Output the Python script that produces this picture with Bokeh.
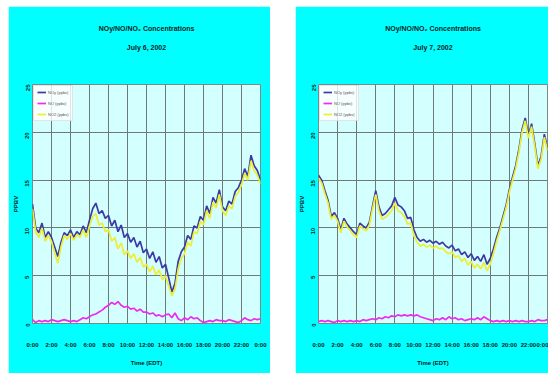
import math
import numpy as np
from bokeh.plotting import figure
from bokeh.layouts import row
from bokeh.models import Range1d, FixedTicker, Title, Legend, LegendItem
from bokeh.embed import file_html
from bokeh.resources import INLINE

# Sampling grid: one reading every 20 minutes, 0:00 to 24:00
hours = np.arange(73) / 3.0

tick_hours = [0, 2, 4, 6, 8, 10, 12, 14, 16, 18, 20, 22, 24]
time_labels = ["0:00", "2:00", "4:00", "6:00", "8:00", "10:00", "12:00",
               "14:00", "16:00", "18:00", "20:00", "22:00", "0:00"]
ppbv_ticks = [0, 5, 10, 15, 20, 25]

series_names = ["NOy (ppbv)", "NO (ppbv)", "NO2 (ppbv)"]

# July 6, 2002
noy_jul6 = [12.5, 10.0, 9.5, 10.5, 9.0, 9.6, 9.0, 8.0, 7.0, 8.5, 9.5, 9.2,
            9.8, 9.0, 9.6, 9.3, 10.2, 9.5, 10.8, 12.0, 12.6, 11.5, 11.8, 11.0,
            11.3, 10.2, 10.8, 9.6, 10.3, 9.0, 9.4, 8.5, 9.0, 8.0, 8.6, 7.4,
            7.8, 6.8, 7.5, 6.4, 7.0, 5.8, 6.2, 4.8, 3.3, 4.2, 6.5, 7.5,
            8.0, 9.2, 8.8, 10.2, 10.0, 11.2, 10.8, 12.3, 11.5, 13.2, 12.6, 14.0,
            12.2, 11.8, 12.8, 12.5, 13.8, 14.2, 15.0, 16.2, 15.4, 17.6, 16.5, 16.0,
            15.0]
no_jul6 = [0.4, 0.1, 0.3, 0.2, 0.3, 0.2, 0.4, 0.3, 0.2, 0.3, 0.4, 0.3,
           0.2, 0.3, 0.2, 0.4, 0.6, 0.5, 0.7, 0.9, 1.0, 1.2, 1.4, 1.7,
           1.9, 2.2, 2.0, 2.3, 1.9, 1.7, 1.8, 1.5, 1.6, 1.3, 1.5, 1.2,
           1.2, 1.0, 1.1, 0.8, 0.9, 0.7, 0.9, 1.0, 0.6, 1.1, 0.5, 0.3,
           0.6, 0.4, 0.7, 0.5, 0.6, 0.3, 0.1, 0.2, 0.3, 0.2, 0.4, 0.3,
           0.3, 0.2, 0.4, 0.3, 0.2, 0.1, 0.3, 0.6, 0.4, 0.3, 0.5, 0.4,
           0.5]
no2_jul6 = [12.0, 9.6, 9.0, 10.0, 8.6, 9.2, 8.6, 7.4, 6.3, 8.0, 9.2, 8.8,
            9.4, 8.7, 9.3, 9.0, 9.8, 9.0, 10.2, 11.2, 11.5, 10.3, 10.5, 9.6,
            9.8, 8.6, 9.0, 7.8, 8.4, 7.2, 7.6, 6.8, 7.3, 6.4, 6.9, 5.9,
            6.2, 5.4, 6.0, 5.1, 5.6, 4.6, 5.0, 3.9, 2.9, 3.6, 5.7, 6.8,
            7.3, 8.5, 8.1, 9.6, 9.4, 10.7, 10.3, 11.8, 11.0, 12.7, 12.1, 13.5,
            11.8, 11.3, 12.3, 12.0, 13.3, 13.7, 14.5, 15.7, 15.0, 17.0, 16.0, 15.5,
            14.6]

# July 7, 2002
noy_jul7 = [15.5, 15.0, 13.9, 12.9, 11.2, 11.6, 11.0, 9.8, 11.0, 10.4, 10.0, 9.6,
            9.3, 10.5, 10.2, 10.0, 10.6, 12.3, 13.9, 12.2, 11.3, 11.5, 11.9, 12.3,
            13.2, 12.4, 12.2, 11.8, 11.0, 11.1, 9.8, 9.0, 8.6, 8.8, 8.5, 8.7,
            8.4, 8.6, 8.3, 8.5, 8.1, 7.9, 8.2, 7.6, 7.8, 7.2, 7.5, 6.9,
            7.3, 6.6, 7.0, 6.5, 7.2, 6.2, 6.8, 7.8, 9.0, 10.0, 11.2, 12.4,
            14.0, 15.3, 16.5, 18.2, 20.3, 21.5, 19.7, 20.9, 18.8, 16.5, 17.5, 19.8,
            18.4]
no_jul7 = [0.2, 0.3, 0.2, 0.3, 0.2, 0.1, 0.3, 0.2, 0.3, 0.2, 0.3, 0.2,
           0.3, 0.2, 0.4, 0.3, 0.4, 0.5, 0.4, 0.6, 0.5, 0.7, 0.6, 0.8,
           0.7, 0.9, 0.8, 0.9, 0.8, 0.9, 0.8, 0.9, 0.7, 0.6, 0.5, 0.4,
           0.3, 0.5, 0.4, 0.6, 0.4, 0.7, 0.5, 0.6, 0.4, 0.5, 0.3, 0.4,
           0.5, 0.4, 0.6, 0.4, 0.7, 0.5, 0.3, 0.2, 0.3, 0.2, 0.3, 0.2,
           0.3, 0.2, 0.3, 0.2, 0.3, 0.2, 0.2, 0.3, 0.2, 0.4, 0.3, 0.3,
           0.4]
no2_jul7 = [15.2, 14.7, 13.6, 12.6, 10.9, 11.3, 10.7, 9.5, 10.7, 10.1, 9.7, 9.3,
            9.0, 10.2, 9.9, 9.7, 10.3, 12.0, 13.5, 11.8, 10.9, 11.1, 11.4, 11.8,
            12.6, 11.8, 11.6, 11.2, 10.4, 10.5, 9.2, 8.5, 8.1, 8.3, 8.0, 8.2,
            7.9, 8.1, 7.8, 7.9, 7.5, 7.3, 7.5, 6.9, 7.1, 6.5, 6.8, 6.1,
            6.5, 5.8, 6.2, 5.7, 6.4, 5.5, 6.2, 7.3, 8.6, 9.7, 10.9, 12.1,
            13.7, 15.0, 16.2, 17.9, 20.0, 21.2, 19.4, 20.6, 18.5, 16.2, 17.2, 19.5,
            18.1]

LINE_COLORS = ["#3b3ba6", "#ee2cee", "#eeee30"]
PANEL_BG = "#00ffff"
PLOT_BG = "#d4ffff"
TEXT = "#0d2424"
FONT = "Liberation Sans"


def make_panel(date_text, noy, no, no2, width, border_left, border_right, title_shift):
    p = figure(width=width, height=367, output_backend="svg", toolbar_location=None,
               x_range=Range1d(0, 24), y_range=Range1d(0, 25),
               min_border_left=border_left, min_border_right=border_right,
               min_border_top=78, min_border_bottom=50,
               background_fill_color=PLOT_BG, border_fill_color=PANEL_BG,
               outline_line_color="#7a8a8a")

    renderers = []
    for vals, color in zip([noy, no, no2], LINE_COLORS):
        renderers.append(p.line(hours, vals, line_color=color, line_width=1.7))

    legend = Legend(items=[LegendItem(label=n, renderers=[r])
                           for n, r in zip(series_names, renderers)],
                    location="top_left", margin=1, padding=3, spacing=5,
                    glyph_width=9, glyph_height=6, label_standoff=2,
                    label_text_font_size="4px", label_text_color="#555555",
                    label_height=6, background_fill_color="white",
                    background_fill_alpha=0.8, border_line_color="#cccccc")
    p.add_layout(legend)

    # axes
    p.xaxis.ticker = FixedTicker(ticks=tick_hours)
    p.xaxis.major_label_overrides = {h: lab for h, lab in zip(tick_hours, time_labels)}
    p.yaxis.ticker = FixedTicker(ticks=ppbv_ticks)
    p.yaxis.major_label_orientation = math.pi / 2
    for ax in (p.xaxis, p.yaxis):
        ax.axis_line_color = None
        ax.major_tick_out = 0
        ax.major_tick_in = 0
        ax.minor_tick_line_color = None
        ax.major_label_text_font = FONT
        ax.major_label_text_font_size = "6px"
        ax.major_label_text_font_style = "bold"
        ax.major_label_text_color = TEXT
        ax.axis_label_text_font = FONT
        ax.axis_label_text_font_size = "6px"
        ax.axis_label_text_font_style = "bold"
        ax.axis_label_text_color = TEXT
    p.xaxis.axis_label = "Time (EDT)"
    p.xaxis.major_label_standoff = 18
    p.xaxis.axis_label_standoff = 9
    p.yaxis.axis_label = "PPBV"
    p.yaxis.major_label_standoff = 5
    p.yaxis.axis_label_standoff = 2

    p.xgrid.grid_line_color = "#6e7a7a"
    p.ygrid.grid_line_color = "#6e7a7a"
    p.xgrid.grid_line_width = 1
    p.ygrid.grid_line_width = 1

    # heading stack above the plot area: blank gap, date, then main line
    p.add_layout(Title(text=" ", text_font_size="16px", align="center"), "above")
    p.add_layout(Title(text=date_text, align="center", offset=title_shift,
                       text_font=FONT, text_font_size="7px", text_font_style="bold",
                       text_color=TEXT), "above")
    p.add_layout(Title(text="NOy/NO/NO\u2082 Concentrations", align="center",
                       offset=title_shift, text_font=FONT, text_font_size="7px",
                       text_font_style="bold", text_color=TEXT), "above")
    return p


p1 = make_panel("July 6, 2002", noy_jul6, no_jul6, no2_jul6, 262, 24, 10, -6)
p2 = make_panel("July 7, 2002", noy_jul7, no_jul7, no2_jul7, 253, 22, 1, -5)
p1.margin = (6, 0, 0, 8)
p2.margin = (6, 0, 0, 25)

layout = row(p1, p2)
open("out.html", "w").write(file_html(layout, INLINE))
